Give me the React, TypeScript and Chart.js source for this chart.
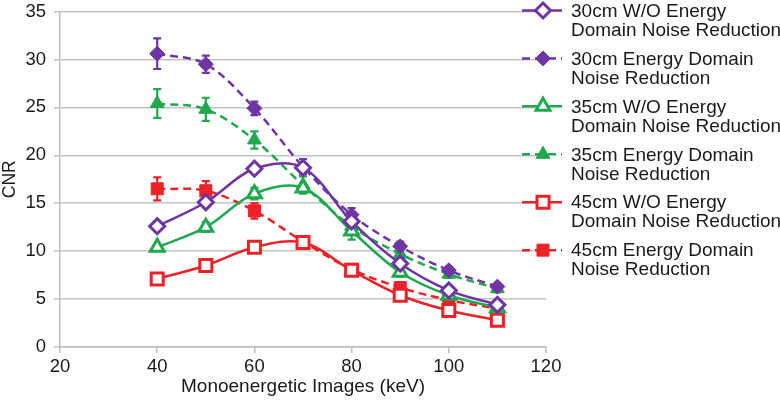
import React, { useEffect, useRef } from "react";
import { Chart, registerables } from "chart.js";

Chart.register(...registerables);

const energies = [40, 50, 60, 70, 80, 90, 100, 110];
const xTicks = [20, 40, 60, 80, 100, 120];

const cnr30Wo = [12.6, 15.1, 18.6, 18.7, 13.1, 8.7, 5.9, 4.4];
const err30Wo = [0.5, 0.4, 0.4, 0.4, 0.4, 0.3, 0.2, 0.2];
const cnr30Ed = [30.6, 29.5, 24.9, 18.8, 13.8, 10.5, 8.0, 6.3];
const err30Ed = [1.6, 0.9, 0.7, 0.8, 0.7, 0.5, 0.4, 0.3];
const cnr35Wo = [10.4, 12.5, 16.0, 16.6, 12.1, 7.8, 5.4, 4.1];
const err35Wo = [0.3, 0.5, 0.6, 0.5, 0.9, 0.5, 0.3, 0.2];
const cnr35Ed = [25.4, 24.8, 21.6, 16.9, 12.6, 9.7, 7.6, 6.1];
const err35Ed = [1.5, 1.2, 0.9, 0.9, 0.6, 0.5, 0.4, 0.4];
const cnr45Wo = [7.1, 8.5, 10.4, 10.9, 8.0, 5.4, 3.8, 2.8];
const err45Wo = [0.3, 0.3, 0.3, 0.3, 0.3, 0.3, 0.2, 0.2];
const cnr45Ed = [16.5, 16.3, 14.2, 11.0, 8.1, 6.2, 4.9, 4.0];
const err45Ed = [1.2, 1.0, 0.8, 0.5, 0.4, 0.4, 0.3, 0.3];

const seriesLabels = [
  ["30cm W/O Energy", "Domain Noise Reduction"],
  ["30cm Energy Domain", "Noise Reduction"],
  ["35cm W/O Energy", "Domain Noise Reduction"],
  ["35cm Energy Domain", "Noise Reduction"],
  ["45cm W/O Energy", "Domain Noise Reduction"],
  ["45cm Energy Domain", "Noise Reduction"],
];

const PURPLE = "#6E35A3";
const GREEN = "#20A84E";
const RED = "#EC2227";
const FONT = "'Liberation Sans', Arial, Helvetica, sans-serif";
const DASH = [8, 5];
const RADIUS = { rectRot: 7.5, triangle: 8, rect: 8.5 };

function makeSet(label, values, errs, color, shape, open, dashed) {
  return {
    label: label.join(" "),
    legendLines: label,
    data: energies.map((x, i) => ({ x, y: values[i] })),
    errors: errs,
    borderColor: color,
    backgroundColor: open ? "#ffffff" : color,
    pointBackgroundColor: open ? "#ffffff" : color,
    pointBorderColor: color,
    pointBorderWidth: open ? 3 : 1,
    pointStyle: shape,
    pointRadius: RADIUS[shape],
    borderWidth: 2.5,
    borderDash: dashed ? DASH : [],
    tension: 0.35,
    fill: false,
    shapeName: shape,
    isOpen: open,
    isDashed: dashed,
    markerColor: color,
  };
}

const errorBarPlugin = {
  id: "errorBars",
  beforeDatasetsDraw(chart) {
    const ctx = chart.ctx;
    const yScale = chart.scales.y;
    chart.data.datasets.forEach((ds, di) => {
      const meta = chart.getDatasetMeta(di);
      ctx.save();
      ctx.strokeStyle = ds.borderColor;
      ctx.lineWidth = 2.2;
      meta.data.forEach((pt, i) => {
        const v = ds.data[i].y;
        const e = ds.errors[i];
        const top = yScale.getPixelForValue(v + e);
        const bot = yScale.getPixelForValue(v - e);
        const x = pt.x;
        ctx.beginPath();
        ctx.moveTo(x, top);
        ctx.lineTo(x, bot);
        ctx.moveTo(x - 4, top);
        ctx.lineTo(x + 4, top);
        ctx.moveTo(x - 4, bot);
        ctx.lineTo(x + 4, bot);
        ctx.stroke();
      });
      ctx.restore();
    });
  },
};

function drawMarker(ctx, shape, x, y, color, open) {
  ctx.save();
  ctx.fillStyle = open ? "#ffffff" : color;
  ctx.strokeStyle = color;
  ctx.lineWidth = open ? 3 : 1;
  ctx.setLineDash([]);
  ctx.beginPath();
  const r = RADIUS[shape];
  if (shape === "rectRot") {
    ctx.moveTo(x, y - r);
    ctx.lineTo(x + r, y);
    ctx.lineTo(x, y + r);
    ctx.lineTo(x - r, y);
  } else if (shape === "triangle") {
    ctx.moveTo(x, y - r);
    ctx.lineTo(x + r * 0.866, y + r * 0.5);
    ctx.lineTo(x - r * 0.866, y + r * 0.5);
  } else {
    const s = r * Math.SQRT1_2;
    ctx.rect(x - s, y - s, 2 * s, 2 * s);
  }
  ctx.closePath();
  ctx.fill();
  ctx.stroke();
  ctx.restore();
}

const legendPlugin = {
  id: "customLegend",
  afterDraw(chart) {
    const ctx = chart.ctx;
    const area = chart.chartArea;
    const startY = area.top - 1;
    const step = (area.bottom - area.top) / 7;
    const lineX0 = area.right - 24;
    const lineX1 = area.right + 16;
    const markX = area.right - 3;
    const textX = area.right + 25;
    chart.data.datasets.forEach((ds, i) => {
      const y = startY + step * i;
      ctx.save();
      ctx.strokeStyle = ds.borderColor;
      ctx.lineWidth = 2.5;
      ctx.setLineDash(ds.isDashed ? DASH : []);
      ctx.beginPath();
      ctx.moveTo(lineX0, y);
      ctx.lineTo(lineX1, y);
      ctx.stroke();
      ctx.restore();
      drawMarker(ctx, ds.shapeName, markX, y, ds.markerColor, ds.isOpen);
      ctx.save();
      ctx.fillStyle = "#1a1a1a";
      ctx.font = `19px ${FONT}`;
      ctx.textBaseline = "middle";
      ctx.textAlign = "left";
      ds.legendLines.forEach((line, k) => {
        ctx.fillText(line, textX, y + 1 + k * 19);
      });
      ctx.restore();
    });
  },
};

export default function App() {
  const ref = useRef(null);
  useEffect(() => {
    document.body.style.margin = "0";
    const datasets = [
      makeSet(seriesLabels[0], cnr30Wo, err30Wo, PURPLE, "rectRot", true, false),
      makeSet(seriesLabels[1], cnr30Ed, err30Ed, PURPLE, "rectRot", false, true),
      makeSet(seriesLabels[2], cnr35Wo, err35Wo, GREEN, "triangle", true, false),
      makeSet(seriesLabels[3], cnr35Ed, err35Ed, GREEN, "triangle", false, true),
      makeSet(seriesLabels[4], cnr45Wo, err45Wo, RED, "rect", true, false),
      makeSet(seriesLabels[5], cnr45Ed, err45Ed, RED, "rect", false, true),
    ];
    const chart = new Chart(ref.current, {
      type: "line",
      data: { datasets },
      plugins: [errorBarPlugin, legendPlugin],
      options: {
        animation: false,
        responsive: false,
        devicePixelRatio: 1,
        layout: { padding: { top: 8, right: 234, left: 0, bottom: 0 } },
        plugins: { legend: { display: false }, tooltip: { enabled: false } },
        scales: {
          x: {
            type: "linear",
            min: 20,
            max: 120,
            afterBuildTicks(scale) {
              scale.ticks = xTicks.map((v) => ({ value: v }));
            },
            afterFit(scale) {
              scale.height = 54;
              scale.paddingLeft = 0;
              scale.paddingRight = 0;
            },
            grid: {
              drawOnChartArea: false,
              drawTicks: true,
              tickLength: 6,
              color: "#bdbdbd",
              lineWidth: 1.5,
            },
            border: { color: "#bdbdbd", width: 1.5 },
            ticks: {
              color: "#1a1a1a",
              font: { family: FONT, size: 18.5 },
              padding: 3,
              maxRotation: 0,
            },
            title: {
              display: true,
              text: "Monoenergetic Images (keV)",
              color: "#1a1a1a",
              font: { family: FONT, size: 19 },
              padding: { top: 0, bottom: 3 },
            },
          },
          y: {
            type: "linear",
            min: 0,
            max: 35,
            ticks: {
              stepSize: 5,
              color: "#1a1a1a",
              font: { family: FONT, size: 18.5, lineHeight: 0.8 },
              padding: 8,
            },
            afterFit(scale) {
              scale.width = 60;
              scale.paddingTop = 0;
              scale.paddingBottom = 0;
            },
            grid: {
              color: "#c4c4c4",
              lineWidth: 1.5,
              tickLength: 6,
            },
            border: { color: "#bdbdbd", width: 1.5 },
            title: {
              display: true,
              text: "CNR",
              color: "#1a1a1a",
              font: { family: FONT, size: 17.5 },
              padding: { top: 0, bottom: 0 },
            },
          },
        },
      },
    });
    return () => chart.destroy();
  }, []);
  return (
    <div style={{ width: 780, height: 401, background: "#fff" }}>
      <canvas ref={ref} width={780} height={401} style={{ display: "block" }} />
    </div>
  );
}
